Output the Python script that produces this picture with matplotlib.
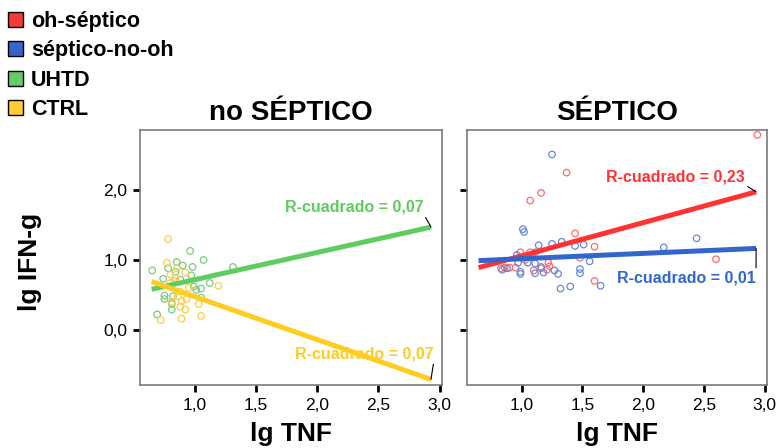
import matplotlib
matplotlib.use("Agg")
import matplotlib.pyplot as plt
from matplotlib.patches import Patch

plt.rcParams['font.family'] = ['Liberation Sans', 'DejaVu Sans']

# ---------------- data ----------------
groups = ["oh-séptico", "séptico-no-oh", "UHTD", "CTRL"]
legend_colors = ["#f23a3a", "#3a64cc", "#66cc66", "#ffcc33"]
point_colors = ["#ff6a6a", "#6688dd", "#77cc77", "#ffcc44"]
line_colors = ["#ff3333", "#3366cc", "#5fcc5f", "#ffcc22"]

panel_titles = ["no SÉPTICO", "SÉPTICO"]
x_label = "lg TNF"
y_label = "lg IFN-g"
x_ticks = [1.0, 1.5, 2.0, 2.5, 3.0]
x_ticklabels = ["1,0", "1,5", "2,0", "2,5", "3,0"]
y_ticks = [0.0, 1.0, 2.0]
y_ticklabels = ["0,0", "1,0", "2,0"]

# UHTD (green) - panel "no SÉPTICO"
uhtd_x = [0.96, 1.07, 0.65, 0.85, 0.78, 0.98, 0.97, 1.31, 1.12, 0.74, 0.99, 1.05,
          1.01, 0.75, 0.75, 0.82, 1.05, 0.81, 0.81, 0.69, 0.84, 0.90, 0.88]
uhtd_y = [1.13, 1.00, 0.85, 0.97, 0.88, 0.90, 0.78, 0.90, 0.67, 0.73, 0.62, 0.59,
          0.57, 0.49, 0.44, 0.48, 0.46, 0.37, 0.29, 0.22, 0.83, 0.92, 0.72]
# CTRL (yellow) - panel "no SÉPTICO"
ctrl_x = [0.78, 0.77, 1.19, 1.05, 0.89, 0.72, 0.92, 0.88, 1.03, 0.80, 0.84, 0.92,
          0.85, 0.81, 0.86, 0.93, 0.89, 0.80, 0.95, 0.87, 0.83]
ctrl_y = [1.30, 0.96, 0.63, 0.20, 0.16, 0.14, 0.29, 0.33, 0.37, 0.79, 0.74, 0.82,
          0.88, 0.40, 0.48, 0.44, 0.41, 0.67, 0.60, 0.55, 0.70]
# oh-séptico (red) - panel "SÉPTICO"
oh_x = [2.94, 1.37, 1.16, 1.07, 1.44, 0.99, 1.07, 1.11, 0.83, 0.86, 0.90, 0.95,
        1.10, 1.22, 1.23, 1.21, 1.16, 1.60, 1.48, 1.60, 2.60, 1.03]
oh_y = [2.79, 2.25, 1.96, 1.85, 1.38, 1.11, 1.11, 1.11, 0.88, 0.89, 0.89, 0.89,
        0.85, 0.96, 0.91, 0.86, 0.88, 1.19, 1.03, 0.70, 1.01, 1.00]
# séptico-no-oh (blue) - panel "SÉPTICO"
sno_x = [1.25, 1.01, 1.02, 1.14, 1.25, 1.33, 0.96, 0.84, 0.99, 0.99, 1.11, 1.18,
         1.27, 1.30, 0.97, 1.05, 1.11, 1.16, 1.32, 1.40, 1.44, 1.51, 1.56, 1.48,
         1.48, 1.65, 2.17, 2.44, 0.88]
sno_y = [2.51, 1.44, 1.40, 1.21, 1.23, 1.26, 1.07, 0.86, 0.83, 0.80, 0.81, 0.82,
         0.85, 0.80, 0.96, 0.96, 0.95, 0.90, 0.59, 0.62, 1.20, 1.22, 0.98, 0.87,
         0.81, 0.63, 1.18, 1.31, 0.88]

# linear fit lines (end points) and R²
fit_x = [0.645, 2.93]
uhtd_fit = [0.58, 1.47]
ctrl_fit = [0.69, -0.71]
oh_fit = [0.89, 1.975]
sno_fit = [0.99, 1.165]
r2 = {"UHTD": "0,07", "CTRL": "0,07", "oh-séptico": "0,23", "séptico-no-oh": "0,01"}

# ---------------- figure ----------------
W, H = 779, 448
fig = plt.figure(figsize=(W / 100, H / 100), dpi=100)
bottom = 1 - 385 / H
height = 255 / H
ax1 = fig.add_axes([140 / W, bottom, 302 / W, height])
ax2 = fig.add_axes([467 / W, bottom, 300 / W, height])

panels = [
    (ax1, [(uhtd_x, uhtd_y, uhtd_fit, 2, "UHTD", (-5, 9)),
           (ctrl_x, ctrl_y, ctrl_fit, 3, "CTRL", (2, 13))]),
    (ax2, [(oh_x, oh_y, oh_fit, 0, "oh-séptico", (-8, 5)),
           (sno_x, sno_y, sno_fit, 1, "séptico-no-oh", (0, -16))]),
]

for i, (ax, series) in enumerate(panels):
    for xs, ys, fy, ci, name, off in series:
        ax.scatter(xs, ys, s=22, facecolors='none', edgecolors=point_colors[ci],
                   linewidths=0.9, zorder=2)
    for xs, ys, fy, ci, name, off in series:
        ax.plot(fit_x, fy, color=line_colors[ci], lw=3.6, zorder=3,
                solid_capstyle='butt')
        va = 'bottom' if off[1] > 0 else 'top'
        ax.annotate("R-cuadrado = " + r2[name], xy=(fit_x[1], fy[1]),
                    xytext=off, textcoords='offset points', ha='right', va=va,
                    color=line_colors[ci], fontsize=11.5, fontweight='bold',
                    arrowprops=dict(arrowstyle='-', color='black', lw=0.8,
                                    shrinkA=0, shrinkB=0,
                                    relpos=(1.0, 0.0) if va == 'bottom' else (1.0, 1.0)),
                    zorder=4)
    ax.set_xlim(0.55, 3.02)
    ax.set_ylim(-0.79, 2.86)
    ax.set_xticks(x_ticks)
    ax.set_xticklabels(x_ticklabels)
    ax.set_yticks(y_ticks)
    ax.set_yticklabels(y_ticklabels if i == 0 else [])
    ax.tick_params(direction='out', length=5, width=2, color='black',
                   labelsize=12.5, pad=4)
    for sp in ax.spines.values():
        sp.set_color('#7a7a7a')
        sp.set_linewidth(1.2)
    ax.set_title(panel_titles[i], fontsize=20, fontweight='bold', pad=7)
    ax.set_xlabel(x_label, fontsize=19, fontweight='bold', labelpad=7)

fig.text(30 / W, 1 - 262 / H, y_label, rotation=90, fontsize=19, fontweight='bold',
         ha='center', va='center')

handles = [Patch(facecolor=c, edgecolor='black', linewidth=1.0) for c in legend_colors]
fig.legend(handles, groups, loc='upper left', bbox_to_anchor=(0.005, 0.985),
           frameon=False, prop={'size': 15.5, 'weight': 'bold'},
           handlelength=0.7, handleheight=0.7, handletextpad=0.35,
           labelspacing=0.39, borderaxespad=0, borderpad=0.2)

fig.savefig("out.png", dpi=100)
